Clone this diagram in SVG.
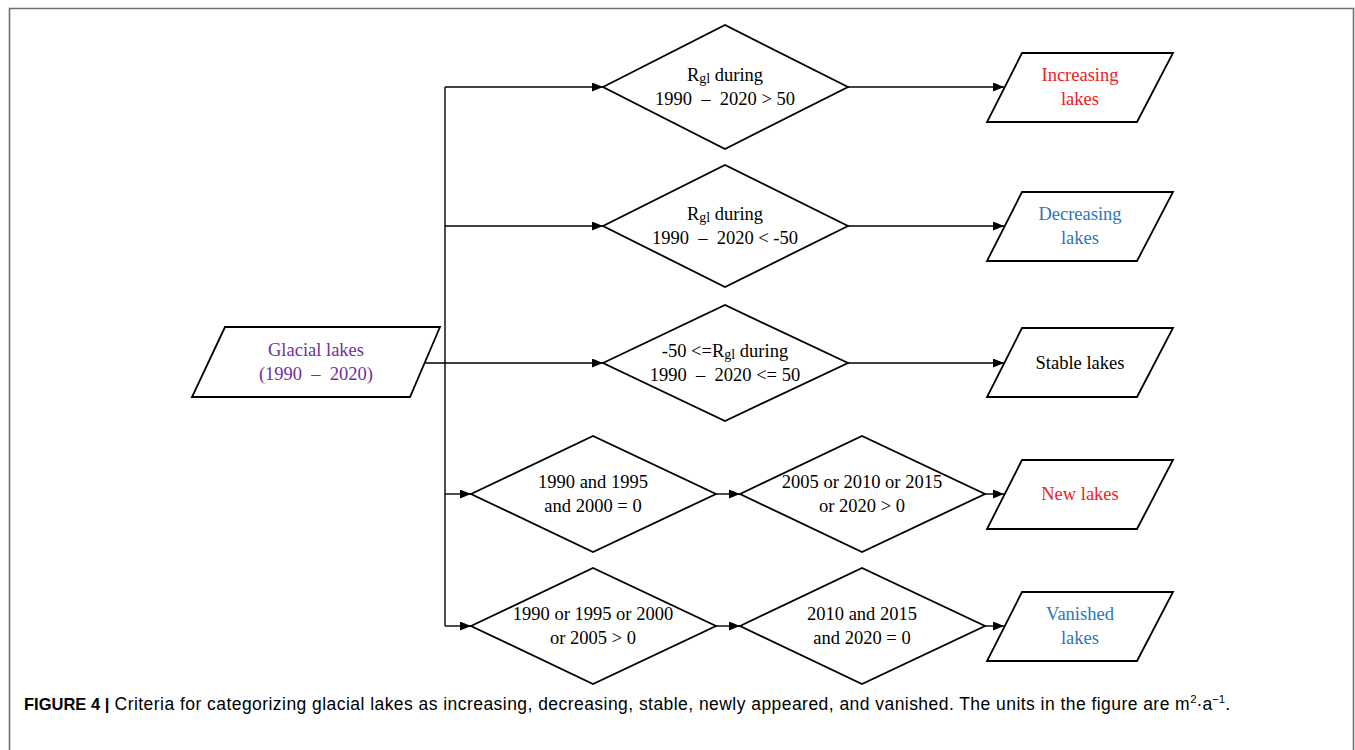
<svg xmlns="http://www.w3.org/2000/svg" width="1355" height="750" viewBox="0 0 1355 750">
<style>
.shape{fill:#fff;stroke:#000;stroke-width:1.8;stroke-linejoin:miter}
.t{font-family:"Liberation Serif","Times New Roman",serif;font-size:18.5px;text-anchor:middle;fill:#000}
.sub{font-size:14px}
.red{fill:#ec1c24}
.blue{fill:#2e75b6}
.purple{fill:#7030a0}
.conn{stroke:#000;stroke-width:1.4;fill:none}
.cap{font-family:"Liberation Sans",Arial,sans-serif;font-size:17.5px;fill:#000}
</style>
<defs>
<marker id="ah" markerUnits="userSpaceOnUse" markerWidth="12" markerHeight="10" refX="11" refY="4.5" orient="auto">
<path d="M0,0 L11,4.5 L0,9 z" fill="#000"/>
</marker>
</defs>
<rect width="1355" height="750" fill="#fff"/>
<path d="M9.5,760 L9.5,8.5 L1353.5,8.5 L1353.5,760" fill="none" stroke="#707070" stroke-width="1.6"/>

<g id="connectors">
<line class="conn" x1="445" y1="87" x2="445" y2="626"/>
<line class="conn" x1="425" y1="363" x2="603" y2="363" marker-end="url(#ah)"/>
<line class="conn" x1="445" y1="87" x2="603" y2="87" marker-end="url(#ah)"/>
<line class="conn" x1="445" y1="226" x2="603" y2="226" marker-end="url(#ah)"/>
<line class="conn" x1="445" y1="494" x2="471" y2="494" marker-end="url(#ah)"/>
<line class="conn" x1="445" y1="626" x2="471" y2="626" marker-end="url(#ah)"/>
<line class="conn" x1="848" y1="87" x2="1004" y2="87" marker-end="url(#ah)"/>
<line class="conn" x1="848" y1="226" x2="1004" y2="226" marker-end="url(#ah)"/>
<line class="conn" x1="848" y1="363" x2="1004" y2="363" marker-end="url(#ah)"/>
<line class="conn" x1="716" y1="494" x2="740" y2="494" marker-end="url(#ah)"/>
<line class="conn" x1="716" y1="626" x2="740" y2="626" marker-end="url(#ah)"/>
<line class="conn" x1="985" y1="494" x2="1004" y2="494" marker-end="url(#ah)"/>
<line class="conn" x1="985" y1="626" x2="1004" y2="626" marker-end="url(#ah)"/>
</g>

<g id="glacial-lakes">
<polygon class="shape" points="225,327 440,327 410,397 192,397"/>
<text class="t purple" x="316" y="356">Glacial lakes</text>
<text class="t purple" x="316" y="380">(1990&#160;&#160;–&#160;&#160;2020)</text>
</g>

<g id="cond-increase">
<polygon class="shape" points="603,87 725,25 848,87 725,149"/>
<text class="t" x="725" y="81">R<tspan class="sub" dy="1.5">gl</tspan><tspan dy="-1.5"> during</tspan></text>
<text class="t" x="725" y="105">1990&#160;&#160;–&#160;&#160;2020 &gt; 50</text>
</g>

<g id="cond-decrease">
<polygon class="shape" points="603,226 725,165 848,226 725,287"/>
<text class="t" x="725" y="220">R<tspan class="sub" dy="1.5">gl</tspan><tspan dy="-1.5"> during</tspan></text>
<text class="t" x="725" y="244">1990&#160;&#160;–&#160;&#160;2020 &lt; -50</text>
</g>

<g id="cond-stable">
<polygon class="shape" points="603,363 725,305 848,363 725,421"/>
<text class="t" x="725" y="357">-50 &lt;=R<tspan class="sub" dy="1.5">gl</tspan><tspan dy="-1.5"> during</tspan></text>
<text class="t" x="725" y="381">1990&#160;&#160;–&#160;&#160;2020 &lt;= 50</text>
</g>

<g id="cond-new-1">
<polygon class="shape" points="471,494 593,436 716,494 593,552"/>
<text class="t" x="593" y="488">1990 and 1995</text>
<text class="t" x="593" y="512">and 2000 = 0</text>
</g>

<g id="cond-new-2">
<polygon class="shape" points="740,494 862,436 985,494 862,552"/>
<text class="t" x="862" y="488">2005 or 2010 or 2015</text>
<text class="t" x="862" y="512">or 2020 &gt; 0</text>
</g>

<g id="cond-vanish-1">
<polygon class="shape" points="471,626 593,568 716,626 593,684"/>
<text class="t" x="593" y="620">1990 or 1995 or 2000</text>
<text class="t" x="593" y="644">or 2005 &gt; 0</text>
</g>

<g id="cond-vanish-2">
<polygon class="shape" points="740,626 862,568 985,626 862,684"/>
<text class="t" x="862" y="620">2010 and 2015</text>
<text class="t" x="862" y="644">and 2020 = 0</text>
</g>

<g id="increasing-lakes">
<polygon class="shape" points="1022,53 1173,53 1137,122 987,122"/>
<text class="t red" x="1080" y="81">Increasing</text>
<text class="t red" x="1080" y="105">lakes</text>
</g>

<g id="decreasing-lakes">
<polygon class="shape" points="1022,192 1173,192 1137,261 987,261"/>
<text class="t blue" x="1080" y="220">Decreasing</text>
<text class="t blue" x="1080" y="244">lakes</text>
</g>

<g id="stable-lakes">
<polygon class="shape" points="1022,328 1173,328 1137,397 987,397"/>
<text class="t" x="1080" y="369">Stable lakes</text>
</g>

<g id="new-lakes">
<polygon class="shape" points="1022,460 1173,460 1137,529 987,529"/>
<text class="t red" x="1080" y="500">New lakes</text>
</g>

<g id="vanished-lakes">
<polygon class="shape" points="1022,592 1173,592 1137,661 987,661"/>
<text class="t blue" x="1080" y="620">Vanished</text>
<text class="t blue" x="1080" y="644">lakes</text>
</g>

<text class="cap" x="24" y="710"><tspan font-weight="bold" font-size="16.5">FIGURE 4 |</tspan><tspan letter-spacing="0.45"> Criteria for categorizing glacial lakes as increasing, decreasing, stable, newly appeared, and vanished. The units in the figure are m</tspan><tspan font-size="11.5" dy="-7">2</tspan><tspan dy="7">·a</tspan><tspan font-size="11.5" dy="-7">−1</tspan><tspan dy="7">.</tspan></text>
</svg>
